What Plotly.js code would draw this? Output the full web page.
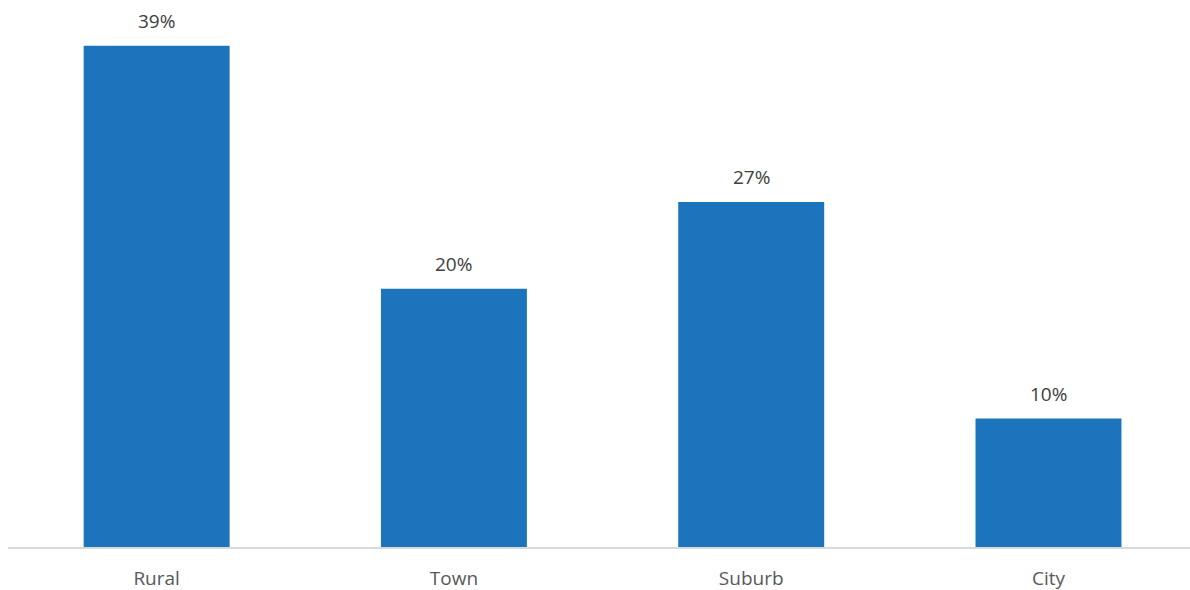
<!DOCTYPE html>
<html>
<head>
<meta charset="utf-8">
<script src="https://cdn.plot.ly/plotly-3.0.1.min.js"></script>
<style>html,body{margin:0;padding:0;background:#fff;}#chart{width:1190px;height:590px;}</style>
</head>
<body>
<div id="chart"></div>
<script>
var categories = ["Rural", "Town", "Suburb", "City"];
var values = [39, 20.1, 26.85, 10];
var labels = ["39%", "20%", "27%", "10%"];

var fontFamily = "'Open Sans', Lato, sans-serif";

var trace = {
  type: "bar",
  x: categories,
  y: values,
  marker: {color: "#1c75bc"},
  hoverinfo: "none"
};

var annotations = categories.map(function (c, i) {
  return {
    x: c, y: values[i], xref: "x", yref: "y",
    text: labels[i], showarrow: false,
    yanchor: "bottom", yshift: 10,
    font: {family: fontFamily, size: 19, color: "#404040"}
  };
});

var layout = {
  width: 1190, height: 590,
  margin: {l: 8, r: 0, t: 0, b: 43},
  paper_bgcolor: "#fff", plot_bgcolor: "#fff",
  bargap: 0.509,
  showlegend: false,
  xaxis: {
    type: "category",
    range: [-0.5, 3.476],
    showline: true, linecolor: "#d9d9d9", linewidth: 1.5,
    showgrid: false, zeroline: false,
    ticks: "", ticklabelstandoff: 14,
    tickfont: {family: fontFamily, size: 19, color: "#595959"}
  },
  yaxis: {
    range: [0, 42.57],
    visible: false, showgrid: false, zeroline: false
  },
  annotations: annotations
};

Plotly.newPlot("chart", [trace], layout, {staticPlot: true, displayModeBar: false});
</script>
</body>
</html>
